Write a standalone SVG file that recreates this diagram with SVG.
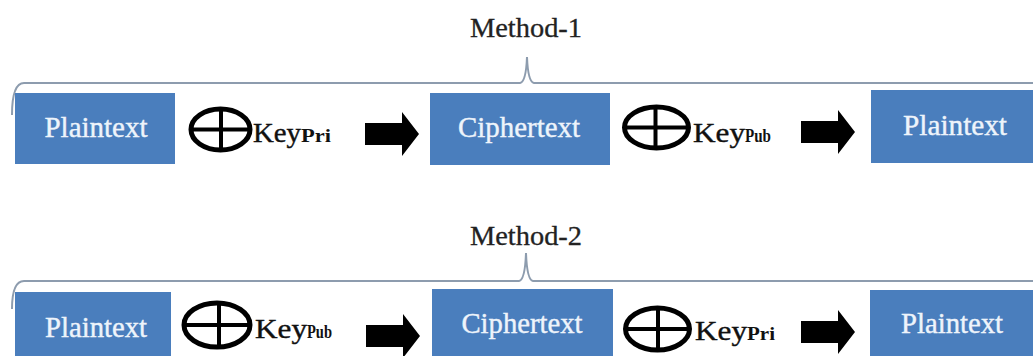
<svg xmlns="http://www.w3.org/2000/svg" width="1033" height="356" viewBox="0 0 1033 356">
  <style>
    text { font-family: "Liberation Serif", "Times New Roman", "DejaVu Serif", serif; }
    .box { fill: #4a7ebd; }
    .boxlabel { font-size: 29px; fill: #eef4fb; stroke: #eef4fb; stroke-width: 0.4; text-anchor: middle; }
    .title { font-size: 27px; fill: #222; stroke: #222; stroke-width: 0.3; text-anchor: middle; }
    .key { font-size: 27px; fill: #111; stroke: #111; stroke-width: 0.4; }
    .sub { font-size: 19px; font-weight: bold; fill: #111; }
    .xor { fill: none; stroke: #000; stroke-width: 5; }
    .xorline { stroke: #000; stroke-width: 4; }
    .brace { fill: none; stroke: #8d9cae; stroke-width: 2; }
  </style>
  <defs>
    <!-- block arrow, drawn from its tail at the origin -->
    <path id="blockArrow" d="M0,-11 H37 V-22 L54,0 L37,22 V11 H0 Z" fill="#000"/>
  </defs>

  <rect width="1033" height="356" fill="#fff"/>

  <!-- Method-1 row -->
  <g id="method1-title">
    <text class="title" x="526" y="37" textLength="112" lengthAdjust="spacingAndGlyphs">Method-1</text>
    <path class="brace" d="M12,115 Q12,83 24,83 H520 Q526,82 527,57 Q528,82 534,83 H1040"/>
  </g>

  <g id="m1-plain-in">
    <rect class="box" x="15" y="93" width="160" height="71"/>
    <text class="boxlabel" x="96" y="137" textLength="103" lengthAdjust="spacingAndGlyphs">Plaintext</text>
  </g>
  <g id="m1-op1">
    <ellipse class="xor" cx="220.5" cy="129.5" rx="29.5" ry="20.5"/>
    <line class="xorline" x1="192" y1="129.5" x2="249" y2="129.5"/>
    <line class="xorline" x1="221" y1="110" x2="221" y2="149"/>
    <text x="253" y="142"><tspan class="key" textLength="48" lengthAdjust="spacingAndGlyphs">Key</tspan><tspan class="sub" textLength="30" lengthAdjust="spacingAndGlyphs">Pri</tspan></text>
  </g>
  <g id="m1-cipher">
    <rect class="box" x="430" y="93" width="180" height="72"/>
    <text class="boxlabel" x="519" y="137" textLength="122" lengthAdjust="spacingAndGlyphs">Ciphertext</text>
  </g>
  <g id="m1-op2">
    <ellipse class="xor" cx="656.5" cy="127.5" rx="32" ry="20.5"/>
    <line class="xorline" x1="625" y1="127.5" x2="688" y2="127.5"/>
    <line class="xorline" x1="655.5" y1="108" x2="655.5" y2="147"/>
    <text x="693" y="142"><tspan class="key" textLength="52" lengthAdjust="spacingAndGlyphs">Key</tspan><tspan class="sub" textLength="26" lengthAdjust="spacingAndGlyphs">Pub</tspan></text>
  </g>
  <g id="m1-plain-out">
    <rect class="box" x="871" y="90" width="170" height="73"/>
    <text class="boxlabel" x="955" y="135" textLength="104" lengthAdjust="spacingAndGlyphs">Plaintext</text>
  </g>

  <!-- Method-2 row -->
  <g id="method2-title">
    <text class="title" x="526" y="245" textLength="112" lengthAdjust="spacingAndGlyphs">Method-2</text>
    <path class="brace" d="M12,309 Q12,281 24,281 H519 Q525,280 526,253 Q527,280 533,281 H1040"/>
  </g>

  <g id="m2-plain-in">
    <rect class="box" x="15" y="292" width="156" height="72"/>
    <text class="boxlabel" x="96" y="337" textLength="102" lengthAdjust="spacingAndGlyphs">Plaintext</text>
  </g>
  <g id="m2-op1">
    <ellipse class="xor" cx="217" cy="325" rx="33" ry="22"/>
    <line class="xorline" x1="184" y1="325" x2="250" y2="325"/>
    <line class="xorline" x1="219" y1="303" x2="219" y2="347"/>
    <text x="255" y="338"><tspan class="key" textLength="52" lengthAdjust="spacingAndGlyphs">Key</tspan><tspan class="sub" textLength="25" lengthAdjust="spacingAndGlyphs">Pub</tspan></text>
  </g>
  <g id="m2-cipher">
    <rect class="box" x="432" y="289" width="181" height="72"/>
    <text class="boxlabel" x="522" y="333" textLength="121" lengthAdjust="spacingAndGlyphs">Ciphertext</text>
  </g>
  <g id="m2-op2">
    <ellipse class="xor" cx="657.5" cy="329" rx="32" ry="21"/>
    <line class="xorline" x1="626" y1="329" x2="689" y2="329"/>
    <line class="xorline" x1="658" y1="308" x2="658" y2="350"/>
    <text x="695" y="340"><tspan class="key" textLength="52" lengthAdjust="spacingAndGlyphs">Key</tspan><tspan class="sub" textLength="28" lengthAdjust="spacingAndGlyphs">Pri</tspan></text>
  </g>
  <g id="m2-plain-out">
    <rect class="box" x="870" y="290" width="170" height="72"/>
    <text class="boxlabel" x="952" y="333" textLength="102" lengthAdjust="spacingAndGlyphs">Plaintext</text>
  </g>

  <!-- flow arrows -->
  <g id="connectors">
    <use href="#blockArrow" transform="translate(365,134)"/>
    <use href="#blockArrow" transform="translate(801,132)"/>
    <use href="#blockArrow" transform="translate(366,336)"/>
    <use href="#blockArrow" transform="translate(801,332)"/>
  </g>
</svg>
